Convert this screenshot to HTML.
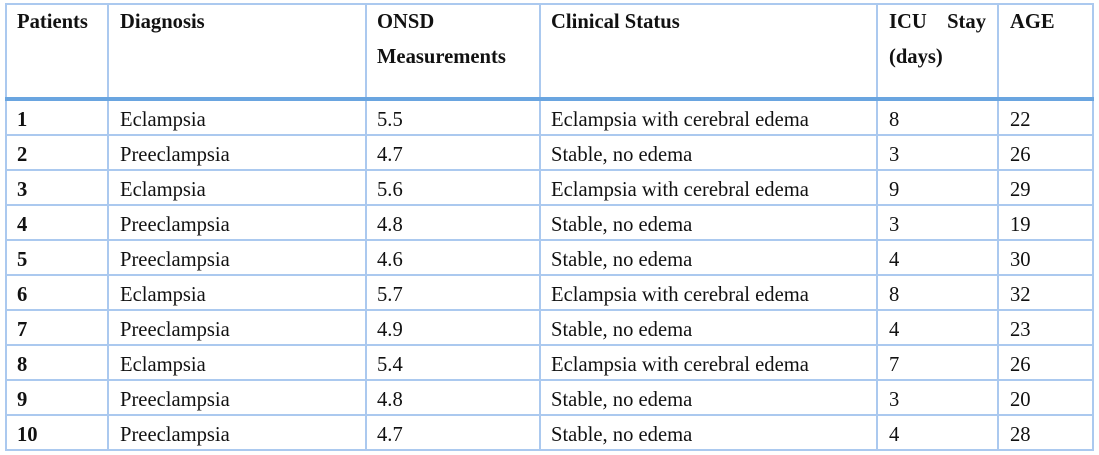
<!DOCTYPE html>
<html>
<head>
<meta charset="utf-8">
<style>
  html, body { margin:0; padding:0; background:#fff; }
  body { width:1099px; height:455px; position:relative; overflow:hidden;
         font-family:"Liberation Serif", "Times New Roman", serif; color:#111; }
  .v { position:absolute; width:2px; background:#abc9ef; top:3px; height:448px; }
  .h { position:absolute; height:2px; background:#abc9ef; left:5px; width:1089px; }
  .thick { position:absolute; left:5px; width:1089px; top:97px; height:4px; background:#6aa5e0; }
  .t { position:absolute; font-size:20.6px; line-height:20.6px; white-space:nowrap; }
  .b { font-weight:bold; }
</style>
</head>
<body>
<!-- vertical lines -->
<div class="v" style="left:5px"></div>
<div class="v" style="left:107px"></div>
<div class="v" style="left:365px"></div>
<div class="v" style="left:539px"></div>
<div class="v" style="left:876px"></div>
<div class="v" style="left:997px"></div>
<div class="v" style="left:1092px"></div>
<!-- horizontal lines -->
<div class="h" style="top:3px"></div>
<div class="thick"></div>
<div class="h" style="top:134px"></div>
<div class="h" style="top:169px"></div>
<div class="h" style="top:204px"></div>
<div class="h" style="top:239px"></div>
<div class="h" style="top:274px"></div>
<div class="h" style="top:309px"></div>
<div class="h" style="top:344px"></div>
<div class="h" style="top:379px"></div>
<div class="h" style="top:414px"></div>
<div class="h" style="top:449px"></div>

<!-- header -->
<div class="t b" style="left:17px;top:12px">Patients</div>
<div class="t b" style="left:120px;top:12px">Diagnosis</div>
<div class="t b" style="left:377px;top:12px">ONSD</div>
<div class="t b" style="left:377px;top:47px">Measurements</div>
<div class="t b" style="left:551px;top:12px">Clinical Status</div>
<div class="t b" style="left:889px;top:12px;width:97px;display:flex;justify-content:space-between"><span>ICU</span><span>Stay</span></div>
<div class="t b" style="left:889px;top:47px">(days)</div>
<div class="t b" style="left:1010px;top:12px">AGE</div>

<!-- rows -->
<div class="t b" style="left:17px;top:110px">1</div>
<div class="t" style="left:120px;top:110px">Eclampsia</div>
<div class="t" style="left:377px;top:110px">5.5</div>
<div class="t" style="left:551px;top:110px">Eclampsia with cerebral edema</div>
<div class="t" style="left:889px;top:110px">8</div>
<div class="t" style="left:1010px;top:110px">22</div>

<div class="t b" style="left:17px;top:145px">2</div>
<div class="t" style="left:120px;top:145px">Preeclampsia</div>
<div class="t" style="left:377px;top:145px">4.7</div>
<div class="t" style="left:551px;top:145px">Stable, no edema</div>
<div class="t" style="left:889px;top:145px">3</div>
<div class="t" style="left:1010px;top:145px">26</div>

<div class="t b" style="left:17px;top:180px">3</div>
<div class="t" style="left:120px;top:180px">Eclampsia</div>
<div class="t" style="left:377px;top:180px">5.6</div>
<div class="t" style="left:551px;top:180px">Eclampsia with cerebral edema</div>
<div class="t" style="left:889px;top:180px">9</div>
<div class="t" style="left:1010px;top:180px">29</div>

<div class="t b" style="left:17px;top:215px">4</div>
<div class="t" style="left:120px;top:215px">Preeclampsia</div>
<div class="t" style="left:377px;top:215px">4.8</div>
<div class="t" style="left:551px;top:215px">Stable, no edema</div>
<div class="t" style="left:889px;top:215px">3</div>
<div class="t" style="left:1010px;top:215px">19</div>

<div class="t b" style="left:17px;top:250px">5</div>
<div class="t" style="left:120px;top:250px">Preeclampsia</div>
<div class="t" style="left:377px;top:250px">4.6</div>
<div class="t" style="left:551px;top:250px">Stable, no edema</div>
<div class="t" style="left:889px;top:250px">4</div>
<div class="t" style="left:1010px;top:250px">30</div>

<div class="t b" style="left:17px;top:285px">6</div>
<div class="t" style="left:120px;top:285px">Eclampsia</div>
<div class="t" style="left:377px;top:285px">5.7</div>
<div class="t" style="left:551px;top:285px">Eclampsia with cerebral edema</div>
<div class="t" style="left:889px;top:285px">8</div>
<div class="t" style="left:1010px;top:285px">32</div>

<div class="t b" style="left:17px;top:320px">7</div>
<div class="t" style="left:120px;top:320px">Preeclampsia</div>
<div class="t" style="left:377px;top:320px">4.9</div>
<div class="t" style="left:551px;top:320px">Stable, no edema</div>
<div class="t" style="left:889px;top:320px">4</div>
<div class="t" style="left:1010px;top:320px">23</div>

<div class="t b" style="left:17px;top:355px">8</div>
<div class="t" style="left:120px;top:355px">Eclampsia</div>
<div class="t" style="left:377px;top:355px">5.4</div>
<div class="t" style="left:551px;top:355px">Eclampsia with cerebral edema</div>
<div class="t" style="left:889px;top:355px">7</div>
<div class="t" style="left:1010px;top:355px">26</div>

<div class="t b" style="left:17px;top:390px">9</div>
<div class="t" style="left:120px;top:390px">Preeclampsia</div>
<div class="t" style="left:377px;top:390px">4.8</div>
<div class="t" style="left:551px;top:390px">Stable, no edema</div>
<div class="t" style="left:889px;top:390px">3</div>
<div class="t" style="left:1010px;top:390px">20</div>

<div class="t b" style="left:17px;top:425px">10</div>
<div class="t" style="left:120px;top:425px">Preeclampsia</div>
<div class="t" style="left:377px;top:425px">4.7</div>
<div class="t" style="left:551px;top:425px">Stable, no edema</div>
<div class="t" style="left:889px;top:425px">4</div>
<div class="t" style="left:1010px;top:425px">28</div>
</body>
</html>
